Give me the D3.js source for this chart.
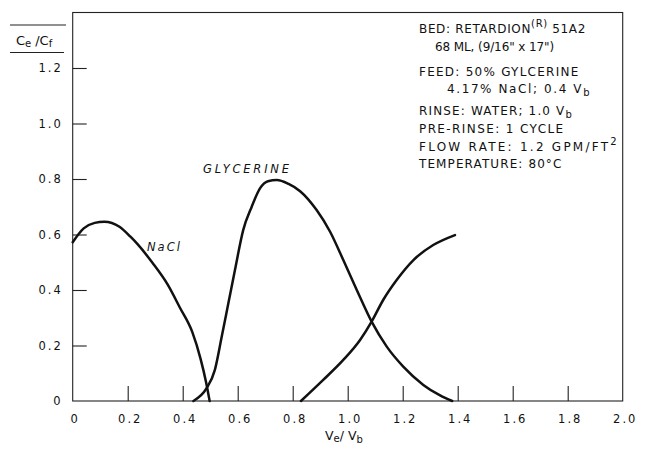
<!DOCTYPE html>
<html>
<head>
<meta charset="utf-8">
<script src="https://cdn.jsdelivr.net/npm/d3@7"></script>
<style>
  html, body { margin: 0; padding: 0; background: #fff; }
  svg { display: block; }
  text { font-family: "DejaVu Sans", "Liberation Sans", sans-serif; fill: #111; }
</style>
</head>
<body>
<svg id="chart" width="645" height="449"></svg>
<script>
// ---- data ----
const xTicks = [0, 0.2, 0.4, 0.6, 0.8, 1.0, 1.2, 1.4, 1.6, 1.8, 2.0];
const yTicks = [0, 0.2, 0.4, 0.6, 0.8, 1.0, 1.2];
const xTickLabels = ["0", "0.2", "0.4", "0.6", "0.8", "1.0", "1.2", "1.4", "1.6", "1.8", "2.0"];
const yTickLabels = ["0", "0.2", "0.4", "0.6", "0.8", "1.0", "1.2"];

// NaCl elution (first cycle)
const naclX = [0, 0.04, 0.08, 0.115, 0.17, 0.21, 0.235, 0.29, 0.345, 0.39, 0.435, 0.465, 0.485, 0.498];
const naclY = [0.572, 0.622, 0.642, 0.646, 0.628, 0.592, 0.566, 0.498, 0.420, 0.336, 0.248, 0.152, 0.068, 0];

// Glycerine elution
const glyX = [0.439, 0.487, 0.517, 0.542, 0.566, 0.59, 0.62, 0.651, 0.681, 0.71, 0.742, 0.785, 0.827, 0.887, 0.936, 0.984, 1.033, 1.087, 1.142, 1.202, 1.275, 1.336, 1.38];
const glyY = [0, 0.046, 0.112, 0.232, 0.352, 0.472, 0.616, 0.70, 0.766, 0.792, 0.796, 0.782, 0.756, 0.688, 0.61, 0.508, 0.40, 0.286, 0.196, 0.124, 0.058, 0.02, 0];

// NaCl (next cycle, unlabeled rising curve)
const nacl2X = [0.83, 0.911, 0.984, 1.045, 1.087, 1.129, 1.178, 1.239, 1.311, 1.39];
const nacl2Y = [0, 0.076, 0.148, 0.22, 0.286, 0.364, 0.436, 0.508, 0.562, 0.598];

const xDomain = [0, 2.0];
const yDomain = [0, 1.4];

// annotation block
const notes = [
  {parts: [["BED: RETARDION", ""], ["(R)", "sup"], [" 51A2", ""]], indent: 0},
  {parts: [["68 ML, (9/16\" x 17\")", ""]], indent: 1},
  {parts: [["FEED: 50% GYLCERINE", ""]], indent: 0},
  {parts: [["4.17% NaCl; 0.4 V", ""], ["b", "sub"]], indent: 2},
  {parts: [["RINSE: WATER; 1.0 V", ""], ["b", "sub"]], indent: 0},
  {parts: [["PRE-RINSE: 1 CYCLE", ""]], indent: 0},
  {parts: [["FLOW RATE: 1.2 GPM/FT", ""], ["2", "sup"]], indent: 0},
  {parts: [["TEMPERATURE: 80°C", ""]], indent: 0}
];

// ---- layout (not data) ----
const noteBaselines = [33, 51, 76, 93, 115, 133, 151, 168];
const noteSpacing = [0.65, -0.1, 1.25, 1.6, 1.15, 1.4, 2.25, 1.1];
const indents = [419, 435, 447];

const svg = d3.select("#chart");
const plotLeft = 72.7, plotRight = 622.7, plotBottom = 401, plotTop = 12.5;

const x = d3.scaleLinear().domain(xDomain).range([plotLeft, plotRight]);
const y = d3.scaleLinear().domain(yDomain).range([plotBottom, plotTop]);

svg.append("rect").attr("width", 645).attr("height", 449).attr("fill", "#fff");

// frame
svg.append("rect")
  .attr("x", x(xDomain[0])).attr("y", y(yDomain[1]))
  .attr("width", x(xDomain[1]) - x(xDomain[0]))
  .attr("height", y(yDomain[0]) - y(yDomain[1]))
  .attr("fill", "none").attr("stroke", "#222").attr("stroke-width", 1.1);

// x axis ticks (inward) + labels
const xAxis = d3.axisBottom(x).tickValues(xTicks)
  .tickSize(-15).tickPadding(14)
  .tickFormat((d, i) => xTickLabels[i]);
const gx = svg.append("g").attr("transform", `translate(0,${plotBottom})`).call(xAxis);
gx.select(".domain").remove();
gx.selectAll(".tick line").attr("stroke", "#222").attr("stroke-width", 1.1)
  .attr("display", d => (d === 0 || d === 2.0) ? "none" : null);
gx.selectAll(".tick text")
  .attr("font-size", 11.5).attr("letter-spacing", "2px").attr("fill", "#111")
  .attr("font-family", "DejaVu Sans").attr("dx", "2");

// y axis ticks (inward) + labels
const yAxis = d3.axisLeft(y).tickValues(yTicks)
  .tickSize(-14).tickPadding(10)
  .tickFormat((d, i) => yTickLabels[i]);
const gy = svg.append("g").attr("transform", `translate(${plotLeft},0)`).call(yAxis);
gy.select(".domain").remove();
gy.selectAll(".tick line").attr("stroke", "#222").attr("stroke-width", 1.1)
  .attr("display", d => d === 0 ? "none" : null);
gy.selectAll(".tick text")
  .attr("font-size", 11.5).attr("letter-spacing", "2px").attr("fill", "#111")
  .attr("font-family", "DejaVu Sans");

// y label Ce/Cf with rules
svg.append("line").attr("x1", 10).attr("x2", 66).attr("y1", 25).attr("y2", 25)
  .attr("stroke", "#222").attr("stroke-width", 1.2);
svg.append("line").attr("x1", 10).attr("x2", 64).attr("y1", 52.5).attr("y2", 52.5)
  .attr("stroke", "#222").attr("stroke-width", 1.2);
const yl = svg.append("text").attr("x", 16).attr("y", 45).attr("font-size", 13);
yl.append("tspan").text("C");
yl.append("tspan").attr("font-size", 10).attr("dy", 2).text("e");
yl.append("tspan").attr("dy", -2).attr("dx", 4).text("/C");
yl.append("tspan").attr("font-size", 10).attr("dy", 2).text("f");

// x label Ve/Vb
const xl = svg.append("text").attr("x", 325).attr("y", 440).attr("font-size", 12.5);
xl.append("tspan").text("V");
xl.append("tspan").attr("font-size", 10).attr("dy", 2).text("e");
xl.append("tspan").attr("dy", -2).text("/ V");
xl.append("tspan").attr("font-size", 10).attr("dy", 3).text("b");

// curves
const line = d3.line().x(d => x(d[0])).y(d => y(d[1])).curve(d3.curveMonotoneX);
const series = [
  d3.zip(naclX, naclY),
  d3.zip(glyX, glyY),
  d3.zip(nacl2X, nacl2Y)
];
svg.selectAll("path.curve").data(series).join("path")
  .attr("class", "curve")
  .attr("d", line)
  .attr("fill", "none").attr("stroke", "#111").attr("stroke-width", 2.5)
  .attr("stroke-linecap", "round").attr("stroke-linejoin", "round");

// curve labels
svg.append("text").attr("x", 203).attr("y", 173).attr("font-size", 11.5)
  .attr("font-style", "italic").attr("letter-spacing", "2.8px").text("GLYCERINE");
svg.append("text").attr("x", 147).attr("y", 251).attr("font-size", 11.5)
  .attr("font-style", "italic").attr("letter-spacing", "2px").text("NaCl");

// annotation block
notes.forEach((n, i) => {
  const t = svg.append("text").attr("x", indents[n.indent]).attr("y", noteBaselines[i])
    .attr("font-size", 12).attr("letter-spacing", noteSpacing[i] + "px");
  let shift = 0;
  n.parts.forEach(([s, kind]) => {
    const sp = t.append("tspan").text(s);
    if (kind === "sup") { sp.attr("dy", -6 - shift).attr("font-size", 10); shift = -6; }
    else if (kind === "sub") { sp.attr("dy", 3 - shift).attr("font-size", 10); shift = 3; }
    else { sp.attr("dy", -shift); shift = 0; }
  });
});
</script>
</body>
</html>
